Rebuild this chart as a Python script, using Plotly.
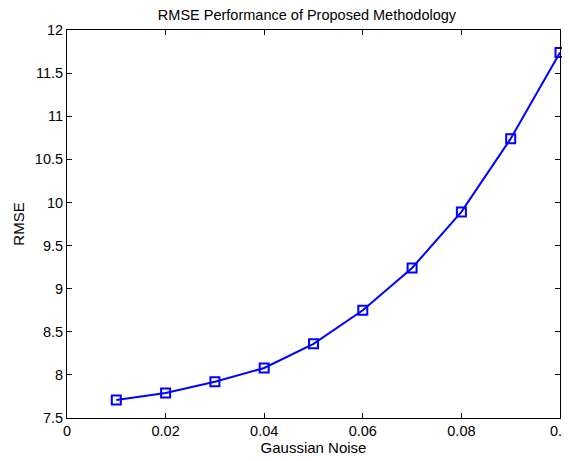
import plotly.graph_objects as go

noise = [0.01, 0.02, 0.03, 0.04, 0.05, 0.06, 0.07, 0.08, 0.09, 0.10]
rmse = [7.71, 7.79, 7.92, 8.08, 8.36, 8.75, 9.24, 9.89, 10.74, 11.74]

x_ticks = [0, 0.02, 0.04, 0.06, 0.08, 0.1]
x_tick_labels = ["0", "0.02", "0.04", "0.06", "0.08", "0.1"]
y_ticks = [7.5, 8, 8.5, 9, 9.5, 10, 10.5, 11, 11.5, 12]
y_tick_labels = ["7.5", "8", "8.5", "9", "9.5", "10", "10.5", "11", "11.5", "12"]

FONT = "Liberation Sans, Arial"

fig = go.Figure()
fig.add_trace(go.Scatter(
    x=noise, y=rmse, mode="lines+markers",
    line=dict(color="#0000ff", width=2),
    marker=dict(symbol="square-open", size=9, color="#0000ff", line=dict(width=2)),
    cliponaxis=False,
))

axis_common = dict(
    showline=True, linecolor="black", linewidth=1, mirror="ticks",
    ticks="inside", ticklen=5, tickcolor="black", showgrid=False, zeroline=False,
    automargin=False, ticklabeloverflow="allow",
    tickfont=dict(family=FONT, size=14.5, color="black"),
)
fig.update_xaxes(range=[0, 0.1], tickvals=x_ticks, ticktext=x_tick_labels,
                 title=dict(text="Gaussian Noise", standoff=2,
                            font=dict(family=FONT, size=15, color="black")),
                 **axis_common)
fig.update_yaxes(range=[7.5, 12], tickvals=y_ticks, ticktext=y_tick_labels,
                 title=dict(text="RMSE", standoff=6,
                            font=dict(family=FONT, size=15, color="black")),
                 **axis_common)

fig.update_layout(
    width=562, height=453,
    margin=dict(l=59, r=10, t=22, b=43),
    paper_bgcolor="white", plot_bgcolor="white",
    showlegend=False,
    title=dict(text="RMSE Performance of Proposed Methodology", x=0.532, xanchor="center",
               y=0.985, yanchor="middle",
               font=dict(family=FONT, size=14.5, color="black")),
)

fig.write_html("out.html")
